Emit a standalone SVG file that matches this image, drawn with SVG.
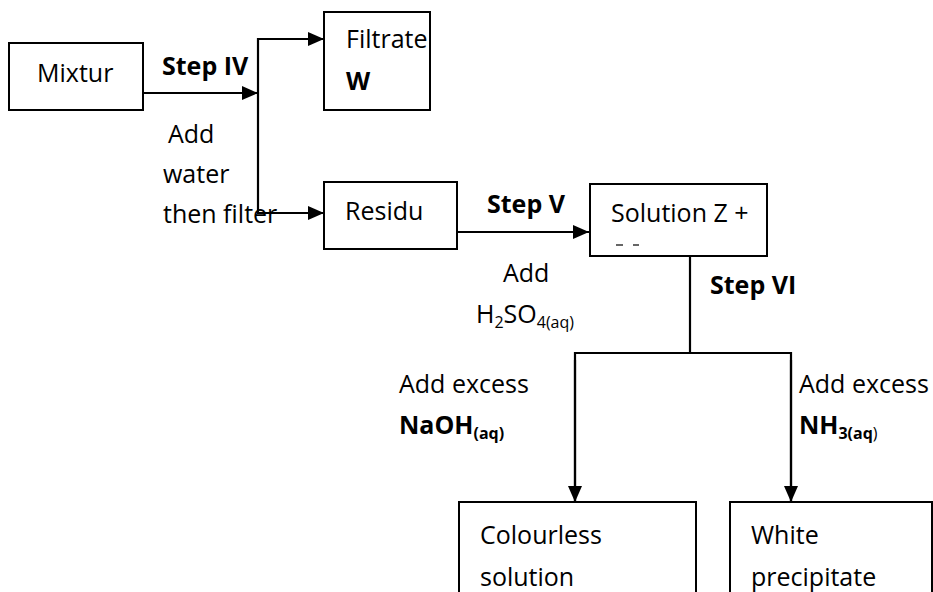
<svg xmlns="http://www.w3.org/2000/svg" width="933" height="592" viewBox="0 0 933 592">
  <style>
    .box { fill: #fff; stroke: #000; stroke-width: 2; }
    .wire { fill: none; stroke: #000; stroke-width: 2.2; }
    text { font-family: "Open Sans", "Noto Sans", "Liberation Sans", sans-serif; font-size: 25px; fill: #000; }
    .b { font-weight: bold; }
    .sub { font-size: 16px; }
  </style>
  <defs>
    <marker id="arrow" markerUnits="userSpaceOnUse" markerWidth="16" markerHeight="14" refX="16" refY="7" orient="auto">
      <path d="M0,0 L16,7 L0,14 Z" fill="#000"/>
    </marker>
  </defs>

  <!-- nodes -->
  <g id="mixtur">
    <rect class="box" x="9" y="43" width="134" height="67"/>
    <text x="37" y="82">Mixtur</text>
  </g>
  <g id="filtrate">
    <rect class="box" x="324" y="12" width="106" height="98"/>
    <text x="346" y="48">Filtrate</text>
    <text class="b" x="346" y="90">W</text>
  </g>
  <g id="residu">
    <rect class="box" x="324" y="182" width="133" height="67"/>
    <text x="345" y="220">Residu</text>
  </g>
  <g id="solution">
    <rect class="box" x="590" y="184" width="177" height="72"/>
    <text x="611" y="222">Solution Z +</text>
    <line x1="616" y1="245" x2="623" y2="245" stroke="#000" stroke-width="1.2"/>
    <line x1="633" y1="245" x2="639" y2="245" stroke="#000" stroke-width="1.2"/>
  </g>
  <g id="colourless">
    <rect class="box" x="459" y="502" width="237" height="100"/>
    <text x="480" y="544">Colourless</text>
    <text x="480" y="586">solution</text>
  </g>
  <g id="white-ppt">
    <rect class="box" x="730" y="502" width="202" height="100"/>
    <text x="751" y="544">White</text>
    <text x="751" y="586">precipitate</text>
  </g>

  <!-- connectors -->
  <g id="connectors">
    <line class="wire" x1="143" y1="93" x2="258" y2="93" marker-end="url(#arrow)"/>
    <line class="wire" x1="258" y1="38" x2="258" y2="214"/>
    <line class="wire" x1="257" y1="39" x2="324" y2="39" marker-end="url(#arrow)"/>
    <line class="wire" x1="257" y1="213" x2="324" y2="213" marker-end="url(#arrow)"/>
    <line class="wire" x1="457" y1="232" x2="589" y2="232" marker-end="url(#arrow)"/>
    <line class="wire" x1="690" y1="256" x2="690" y2="353"/>
    <polyline class="wire" points="575,502 575,353 791,353 791,502"/>
    <line class="wire" x1="575" y1="360" x2="575" y2="502" marker-end="url(#arrow)"/>
    <line class="wire" x1="791" y1="360" x2="791" y2="502" marker-end="url(#arrow)"/>
  </g>

  <!-- labels -->
  <g id="labels">
    <text class="b" x="162" y="75">Step IV</text>
    <text x="168" y="143">Add</text>
    <text x="163" y="183">water</text>
    <text x="163" y="223">then filter</text>
    <text class="b" x="487" y="213">Step V</text>
    <text x="503" y="282">Add</text>
    <text x="476" y="323">H<tspan class="sub" dy="5">2</tspan><tspan dy="-5">SO</tspan><tspan class="sub" dy="5">4(aq)</tspan></text>
    <text class="b" x="710" y="294">Step VI</text>
    <text x="399" y="393">Add excess</text>
    <text class="b" x="399" y="434">NaOH<tspan class="sub" dy="5">(aq)</tspan></text>
    <text x="799" y="393">Add excess</text>
    <text class="b" x="799" y="434">NH<tspan class="sub" dy="5">3(aq</tspan><tspan class="sub" font-weight="normal">)</tspan></text>
  </g>
</svg>
